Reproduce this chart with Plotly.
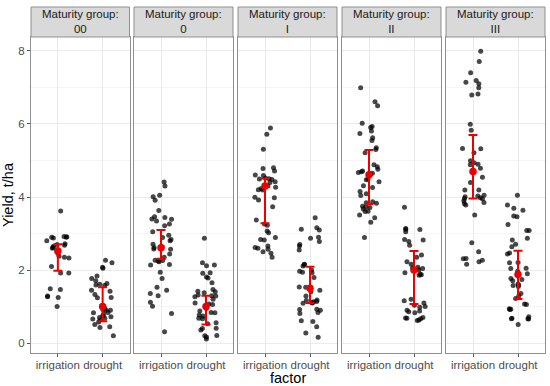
import numpy as np
import plotly.graph_objects as go

groups = ["00", "0", "I", "II", "III"]
factors = ["irrigation", "drought"]

# yield values (t/ha): [irrigation, drought] per maturity group
y_00_irr = [3.62, 2.91, 2.92, 2.90, 2.88, 2.90, 2.80, 2.72, 2.68, 2.70, 2.65, 2.62, 2.60,
            2.55, 2.45, 2.38, 2.33, 2.35, 1.92, 1.92, 2.10, 1.49, 1.47, 1.29, 1.27, 1.25, 1.0]
y_00_dr = [2.20, 2.27, 2.05, 2.08, 1.84, 1.77, 1.71, 1.63, 1.59, 1.61, 1.45, 1.42, 1.33, 1.24,
           1.25, 0.92, 0.90, 0.90, 0.84, 0.83, 0.79, 0.75, 0.72, 0.70, 0.68, 0.66, 0.63, 0.58,
           0.51, 0.45, 0.43, 0.20, 1.58, 0.95]
y_0_irr = [4.41, 4.30, 4.01, 4.05, 3.91, 3.63, 3.40, 3.39, 3.46, 3.44, 3.34, 3.26, 3.21, 3.05,
           2.95, 2.84, 2.80, 2.89, 2.71, 2.62, 2.57, 2.64, 2.58, 2.44, 2.35, 2.26, 2.25, 2.23,
           2.27, 2.14, 2.15, 1.94, 1.77, 1.53, 1.45, 1.36, 1.30, 1.12, 1.01, 0.81, 0.31]
y_0_dr = [2.87, 2.12, 2.14, 2.20, 1.78, 1.93, 1.91, 1.81, 1.65, 1.41, 1.32, 1.29, 1.27, 1.30,
          1.47, 1.42, 1.38, 1.20, 1.10, 1.07, 1.06, 0.95, 0.84, 0.88, 0.77, 0.74, 0.68, 0.67,
          0.56, 0.53, 0.40, 0.36, 0.41, 0.20, 0.21, 0.11, 0.17, 0.83]
y_I_irr = [5.89, 5.72, 5.31, 4.80, 4.78, 4.71, 4.60, 4.59, 4.52, 4.42, 4.49, 4.48, 4.50, 4.40,
           4.30, 4.27, 4.23, 4.19, 4.20, 3.99, 3.92, 3.98, 3.73, 3.37, 3.23, 3.26, 3.07, 3.02,
           2.84, 2.89, 2.82, 2.66, 2.57, 2.60, 2.62, 2.50, 2.46, 2.35]
y_I_dr = [3.43, 3.12, 3.10, 3.16, 2.90, 2.87, 2.78, 2.70, 2.66, 2.55, 2.16, 2.15, 2.11, 2.00,
          1.97, 1.93, 1.94, 1.80, 1.54, 1.53, 1.45, 1.41, 1.18, 1.13, 1.10, 1.09, 1.11, 0.92,
          0.93, 0.90, 0.84, 0.81, 1.17, 1.29, 0.61, 0.59, 0.45, 0.28, 0.16, 1.14]
y_II_irr = [6.99, 6.61, 6.50, 6.02, 5.90, 5.93, 5.81, 5.74, 5.62, 5.55, 5.35, 5.30, 5.21, 4.88,
            4.83, 4.76, 4.69, 4.67, 4.65, 4.71, 4.63, 4.42, 4.47, 4.31, 4.49, 4.26, 4.15, 4.09,
            4.04, 3.87, 3.83, 3.84, 3.73, 3.71, 3.75, 3.67, 3.60, 3.61, 3.51, 3.43, 3.31, 2.89]
y_II_dr = [3.72, 3.11, 3.14, 3.12, 3.05, 2.84, 2.82, 2.78, 2.68, 2.41, 2.35, 2.23, 2.06, 2.04,
           2.16, 2.00, 1.93, 1.86, 1.89, 1.87, 2.08, 1.20, 1.16, 1.04, 0.98, 0.90, 0.86, 0.83,
           0.88, 0.70, 0.69, 0.68, 0.67, 0.62, 0.63, 1.00, 1.10]
y_III_irr = [7.99, 7.71, 7.40, 7.19, 7.14, 7.10, 6.99, 6.82, 6.79, 5.99, 5.83, 5.33, 5.32, 5.21,
             4.99, 4.94, 4.90, 4.88, 4.79, 4.54, 4.40, 4.19, 4.19, 4.05, 4.01, 4.03, 3.98, 3.95,
             3.96, 3.90, 3.85, 3.82, 3.78, 3.51, 2.75, 2.50, 2.32, 2.27, 2.16, 2.23, 2.31]
y_III_dr = [4.05, 3.78, 3.69, 3.48, 3.64, 3.46, 3.25, 3.08, 3.08, 2.87, 2.82, 2.71, 2.64, 2.47,
            2.44, 2.21, 2.20, 2.04, 2.05, 1.97, 1.77, 1.74, 1.71, 1.59, 1.58, 1.55, 1.36, 1.29,
            1.22, 1.07, 1.06, 0.93, 0.92, 0.94, 0.72, 0.67, 0.68, 0.66, 0.67, 0.51, 1.62, 1.90]

points = [[y_00_irr, y_00_dr], [y_0_irr, y_0_dr], [y_I_irr, y_I_dr],
          [y_II_irr, y_II_dr], [y_III_irr, y_III_dr]]

# red summary: centre, lower and upper ends of the bar [irrigation, drought]
centre = [[2.52, 1.00], [2.61, 1.00], [4.30, 1.50], [4.61, 2.00], [4.70, 1.88]]
lower = [[1.98, 0.60], [2.31, 0.51], [3.28, 1.10], [3.81, 1.07], [3.96, 1.21]]
upper = [[2.71, 1.53], [3.10, 1.30], [4.51, 2.09], [5.29, 2.52], [5.70, 2.53]]

y_ticks = [0, 2, 4, 6, 8]

# ---- layout geometry (pixels) ----
W, H = 550, 386
ML, MR, MT, MB = 31, 5, 37, 33
pw = W - ML - MR
ph = H - MT - MB
panel_px = [(31, 129.5), (134, 233), (238, 337), (342, 441), (446, 545)]
strip_h = 30

fig = go.Figure()
rng = np.random.default_rng(7)

border = "#8f8f8f"
grid = "#ebebeb"
FONT = "Liberation Sans, Arial"

for i, g in enumerate(groups):
    ax = "" if i == 0 else str(i + 1)
    xref = "x" + ax
    yref = "y" + ax
    for j, f in enumerate(factors):
        ys = points[i][j]
        xs = (j + 1) + rng.uniform(-0.25, 0.25, len(ys))
        fig.add_trace(go.Scatter(
            x=xs, y=ys, mode="markers", xaxis=xref, yaxis=yref,
            marker=dict(color="rgba(0,0,0,0.72)", size=5, line=dict(width=0)),
            showlegend=False, hoverinfo="y"))
    fig.add_trace(go.Scatter(
        x=[1, 2], y=centre[i], mode="markers", xaxis=xref, yaxis=yref,
        marker=dict(color="#ee0000", size=7.5),
        error_y=dict(type="data", symmetric=False,
                     array=[upper[i][k] - centre[i][k] for k in range(2)],
                     arrayminus=[centre[i][k] - lower[i][k] for k in range(2)],
                     color="#ee0000", thickness=2, width=4.5),
        showlegend=False, hoverinfo="y"))

    x0, x1 = panel_px[i]
    d0 = (x0 - ML) / pw
    d1 = (x1 - ML) / pw
    fig.layout["xaxis" + ax] = dict(
        domain=[d0, d1], range=[0.4, 2.6], tickvals=[1, 2], ticktext=factors,
        showgrid=True, gridcolor=grid, gridwidth=1, zeroline=False,
        showline=True, mirror=True, linecolor=border, linewidth=1,
        ticks="outside", ticklen=3, tickcolor="#555", ticklabelstandoff=-2,
        tickfont=dict(family=FONT, size=11.5, color="#4d4d4d"),
        anchor=yref, fixedrange=True, automargin=False)
    fig.layout["yaxis" + ax] = dict(
        domain=[0, 1], range=[-0.27, 8.38], tickvals=y_ticks,
        showticklabels=(i == 0), ticks="outside" if i == 0 else "",
        ticklen=3, tickcolor="#555",
        showgrid=True, gridcolor=grid, gridwidth=1, zeroline=False,
        minor=dict(dtick=1, tick0=1, showgrid=True, gridcolor="#f5f5f5", gridwidth=0.5),
        showline=True, mirror=True, linecolor=border, linewidth=1,
        tickfont=dict(family=FONT, size=11.5, color="#4d4d4d"),
        anchor=xref, fixedrange=True, automargin=False)

    # strip
    fig.add_shape(type="rect", xref="paper", yref="paper",
                  x0=d0, x1=d1, y0=1, y1=1 + strip_h / ph,
                  fillcolor="#d9d9d9", line=dict(color=border, width=1))
    fig.add_annotation(xref="paper", yref="paper", x=(d0 + d1) / 2,
                       y=1 + strip_h / ph / 2, text="Maturity group:<br>" + g,
                       showarrow=False, xanchor="center", yanchor="middle", align="center",
                       font=dict(family=FONT, size=11.5, color="#1a1a1a"))

fig.add_annotation(xref="paper", yref="paper", x=0.5, y=-25 / ph, text="factor",
                   showarrow=False, yanchor="middle", xanchor="center",
                   font=dict(family=FONT, size=14.5, color="#000"))
fig.add_annotation(xref="paper", yref="paper", x=-23 / pw, y=0.5, text="Yield, t/ha",
                   showarrow=False, textangle=-90, xanchor="center", yanchor="middle",
                   font=dict(family=FONT, size=14.5, color="#000"))

fig.update_layout(width=W, height=H, margin=dict(l=ML, r=MR, t=MT, b=MB, autoexpand=False),
                  paper_bgcolor="white", plot_bgcolor="white")

fig.write_html("out.html", config={"displayModeBar": False},
               post_script="document.body.style.margin='0';")
